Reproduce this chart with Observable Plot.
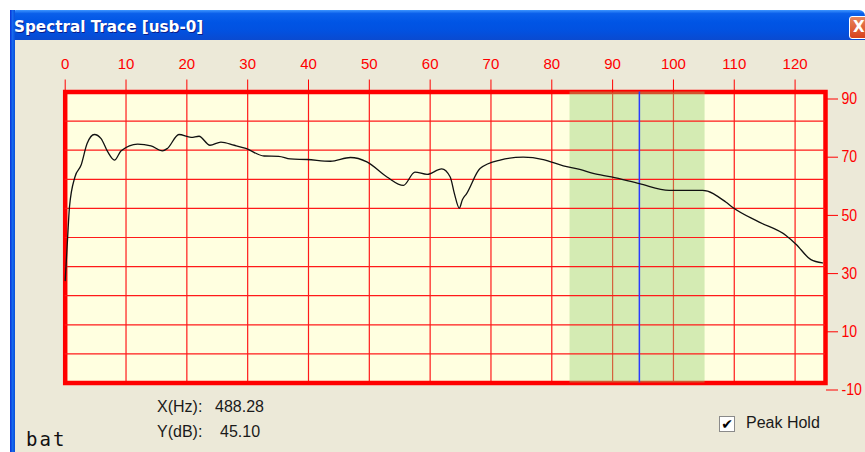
<!DOCTYPE html>
<html>
<head>
<meta charset="utf-8">
<script src="https://cdn.jsdelivr.net/npm/d3@7"></script>
<script src="https://cdn.jsdelivr.net/npm/@observablehq/plot@0.6"></script>
<style>
  html, body { margin: 0; padding: 0; background: #ffffff; }
  #win { position: relative; width: 865px; height: 452px; overflow: hidden; background: #ffffff; font-family: "Liberation Sans", "DejaVu Sans", sans-serif; }
  #body { position: absolute; left: 10px; top: 40px; width: 855px; height: 412px; background: #ECE9D8; }
  #lborder { position: absolute; left: 10px; top: 10px; width: 5px; height: 442px; background: linear-gradient(to right, #0831D9, #166AEE, #0A4FD8); }
  #titlebar { position: absolute; left: 10px; top: 10px; width: 855px; height: 30px; border-radius: 6px 6px 0 0;
    background: linear-gradient(to bottom, #3D95FF 0%, #0A5FEA 12%, #0055E5 40%, #0251E0 70%, #0A4AD0 100%); }
  #title { position: absolute; left: 14px; top: 17px; color: #fff; font: bold 16px "DejaVu Sans", sans-serif; white-space: nowrap;
    transform: scaleX(0.95); transform-origin: left center; text-shadow: 1px 1px 0 #0A1E8C; }
  #close { position: absolute; left: 849px; top: 16px; width: 20px; height: 21px; border: 1px solid #fff; border-radius: 3px;
    background: linear-gradient(#E8855D, #D8421C); color: #fff; font: bold 15px "DejaVu Sans", sans-serif; line-height: 21px; text-indent: 3px; }
  #chart { position: absolute; left: 0; top: 40px; }
  .lbl { position: absolute; color: #1a1a1a; font: 16px "Liberation Sans", sans-serif; white-space: nowrap; }
  #bat { position: absolute; left: 26px; top: 428px; font: 19px "DejaVu Sans Mono", monospace; color: #111; letter-spacing: 2px; }
  #cb { position: absolute; left: 719px; top: 416px; width: 14px; height: 14px; border: 1px solid #8a8a8a; background: #fff; font: bold 14px "DejaVu Sans", sans-serif; line-height: 14px; color: #000; text-align: center; }
</style>
</head>
<body>
<div id="win">
  <div id="body"></div>
  <div id="titlebar"></div>
  <div id="lborder"></div>
  <div id="title">Spectral Trace [usb-0]</div>
  <div id="close">X</div>
  <div id="chart"></div>
  <div class="lbl" style="left:157px; top:398px;">X(Hz):</div>
  <div class="lbl" style="left:215px; top:398px;">488.28</div>
  <div class="lbl" style="left:157px; top:423px;">Y(dB):</div>
  <div class="lbl" style="left:220px; top:423px;">45.10</div>
  <div id="bat">bat</div>
  <div id="cb">✔</div>
  <div class="lbl" style="left:746px; top:414px;">Peak Hold</div>
</div>
<script>
// Spectrum trace (x axis units, level in dB)
const freq  = [0, 0.4, 0.7, 1.6, 2.6, 3.6, 4.8, 5.9, 7.0, 8.1, 9.2, 11.9, 14.1, 16.0, 16.8, 18.7, 20.7, 22.0, 23.8, 25.6, 27.8, 29.7, 32.7, 35.1, 37.0, 39.8, 43.6, 46.9, 49.6, 52.9, 55.6, 57.5, 59.5, 61.9, 63.3, 64.0, 64.8, 65.3, 66.0, 68.2, 71.5, 75.3, 78.6, 81.9, 84.6, 86.8, 89.8, 94.4, 99.3, 104.8, 108.6, 109.7, 114.1, 118.5, 120.1, 122.6, 124.5];
const level = [25.2, 40, 50.4, 60.8, 64.8, 72.3, 75.4, 74, 69.4, 66.6, 69.8, 72.1, 71.5, 69.8, 70.6, 75.4, 74.4, 74.8, 71.7, 72.8, 71.7, 70.6, 68, 67.9, 67, 66.8, 66.2, 67.5, 66, 60.8, 57.9, 62.5, 61.7, 63.6, 60.8, 55, 50.1, 53, 55.1, 63.7, 66.6, 67.6, 66.8, 64.6, 63.4, 62, 60.8, 58.5, 56.2, 56.2, 52.2, 50.4, 45.3, 40.7, 37.8, 32.4, 31.3];

const xTicks = [0, 10, 20, 30, 40, 50, 60, 70, 80, 90, 100, 110, 120];
const yTicks = [90, 70, 50, 30, 10, -10];
const xGrid = [10, 20, 30, 40, 50, 60, 70, 80, 90, 100, 110, 120];
const yGrid = [0, 10, 20, 30, 40, 50, 60, 70, 80];
const bandStart = [83];
const bandEnd = [105.2];
const cursorX = [94.4];

const trace = freq.map((f, i) => ({f, v: level[i]}));
const band = bandStart.map((s, i) => ({x1: s, x2: bandEnd[i]}));

const plot = Plot.plot({
  width: 865,
  height: 412,
  marginLeft: 64.7,
  marginRight: 40,
  marginTop: 51.5,
  marginBottom: 69.5,
  style: {background: "transparent", fontFamily: "Liberation Sans, DejaVu Sans, sans-serif", fontSize: "15px"},
  x: {domain: [0, 125]},
  y: {domain: [-10, 90]},
  marks: [
    Plot.frame({fill: "#FFFFE0", stroke: "none"}),
    Plot.ruleX(xGrid, {stroke: "#FF1A1A", strokeWidth: 1.2}),
    Plot.frame({stroke: "#FF0000", strokeWidth: 4.5}),
    Plot.rect(band, {x1: "x1", x2: "x2", y1: -10, y2: 90, fill: "#93CC70", fillOpacity: 0.4}),
    Plot.ruleY(yGrid, {stroke: "#FF1A1A", strokeWidth: 1.2}),
    Plot.ruleX(cursorX, {stroke: "#2A3CFF", strokeWidth: 1.5}),
    Plot.line(trace, {x: "f", y: "v", stroke: "#111", strokeWidth: 1.3, curve: "monotone-x"}),
    Plot.axisX(xTicks, {anchor: "top", tickSize: 13, tickPadding: 10, color: "#FF0000", fontSize: 15, label: null}),
    Plot.axisY(yTicks, {anchor: "right", tickSize: 12, tickPadding: 4, color: "#FF0000", fontSize: 16, dy: 7, label: null, tickFormat: d => String(d)})
  ]
});
// slightly condense the right-hand tick labels like the original bitmap font
d3.select(plot).selectAll('g[aria-label="y-axis tick label"] text')
  .each(function() {
    const t = this.getAttribute("transform") || "";
    this.setAttribute("transform", t + " scale(0.88,1)");
  });
document.getElementById("chart").appendChild(plot);
</script>
</body>
</html>
